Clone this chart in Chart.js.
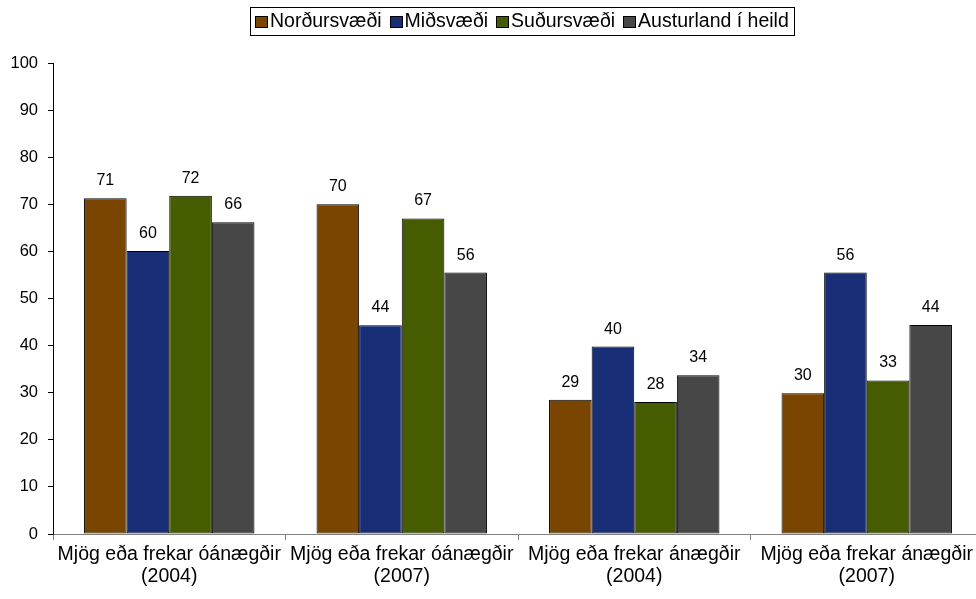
<!DOCTYPE html>
<html>
<head>
<meta charset="utf-8">
<script src="https://cdn.jsdelivr.net/npm/chart.js@4/dist/chart.umd.min.js"></script>
<style>
  html, body { margin: 0; padding: 0; background: #fff; overflow: hidden; }
  /* the original plot runs a few pixels past the right edge of the picture */
  #wrap { width: 983px; height: 599px; }
</style>
</head>
<body>
<div id="wrap"><canvas id="chart"></canvas></div>
<script>
// categories (two-line labels) and series
const categories = [
  ['Mjög eða frekar óánægðir', '(2004)'],
  ['Mjög eða frekar óánægðir', '(2007)'],
  ['Mjög eða frekar ánægðir', '(2004)'],
  ['Mjög eða frekar ánægðir', '(2007)']
];
const seriesNames = ['Norðursvæði', 'Miðsvæði', 'Suðursvæði', 'Austurland í heild'];
const nordursvaedi = [71.3, 70.0, 28.5, 29.9];
const midsvaedi = [60.1, 44.3, 39.8, 55.5];
const sudursvaedi = [71.8, 67.0, 28.0, 32.6];
const austurland = [66.2, 55.5, 33.7, 44.4];
const yMin = 0, yMax = 100, yStep = 10;

const FONT = '"Liberation Sans", Arial, sans-serif';

// numbers above the bars
const valueLabels = {
  id: 'valueLabels',
  afterDatasetsDraw(chart) {
    const ctx = chart.ctx;
    ctx.save();
    ctx.font = '16px ' + FONT;
    ctx.fillStyle = '#000';
    ctx.textAlign = 'center';
    ctx.textBaseline = 'alphabetic';
    chart.data.datasets.forEach((ds, i) => {
      chart.getDatasetMeta(i).data.forEach((bar, j) => {
        ctx.fillText(String(Math.round(ds.data[j])), bar.x, bar.y - 13);
      });
    });
    ctx.restore();
  }
};

// legend in a framed box, like the original
const boxLegend = {
  id: 'boxLegend',
  afterDraw(chart, args, opts) {
    const ctx = chart.ctx;
    ctx.save();
    ctx.font = '19.5px ' + FONT;
    const sqW = 12, sqH = 11, gap = 3, itemGap = 8, padX = 5;
    const items = chart.data.datasets.map(ds => ({
      text: ds.label,
      color: ds.backgroundColor,
      w: sqW + gap + ctx.measureText(ds.label).width
    }));
    const total = items.reduce((s, it) => s + it.w, 0) + itemGap * (items.length - 1) + padX * 2;
    let x = Math.round(opts.centerX - total / 2);
    const top = opts.top, h = opts.height;
    ctx.strokeStyle = '#000';
    ctx.lineWidth = 1;
    ctx.strokeRect(x + 0.5, top + 0.5, Math.round(total), h);
    x += padX;
    const cy = top + h / 2;
    items.forEach(it => {
      const bx = Math.round(x), by = Math.round(cy - sqH / 2);
      ctx.fillStyle = it.color;
      ctx.fillRect(bx, by, sqW, sqH);
      ctx.strokeRect(bx + 0.5, by + 0.5, sqW, sqH);
      ctx.fillStyle = '#000';
      ctx.textAlign = 'left';
      ctx.textBaseline = 'middle';
      ctx.fillText(it.text, x + sqW + gap, cy + 1);
      x += it.w + itemGap;
    });
    ctx.restore();
  }
};

const barStyle = { borderColor: '#000', borderWidth: 1, borderSkipped: false };

new Chart(document.getElementById('chart'), {
  type: 'bar',
  data: {
    labels: categories,
    datasets: [
      { label: seriesNames[0], data: nordursvaedi, backgroundColor: '#7a4500', ...barStyle },
      { label: seriesNames[1], data: midsvaedi, backgroundColor: '#182f78', ...barStyle },
      { label: seriesNames[2], data: sudursvaedi, backgroundColor: '#455c00', ...barStyle },
      { label: seriesNames[3], data: austurland, backgroundColor: '#474747', ...barStyle }
    ]
  },
  options: {
    responsive: true,
    maintainAspectRatio: false,
    animation: false,
    layout: { padding: { top: 63, right: 0, left: 0, bottom: 0 } },
    datasets: { bar: { categoryPercentage: 0.733, barPercentage: 1 } },
    plugins: {
      legend: { display: false },
      tooltip: { enabled: false },
      boxLegend: { centerX: 522, top: 7, height: 28 }
    },
    scales: {
      x: {
        grid: { drawOnChartArea: false, drawTicks: true, tickLength: 6, color: '#808080', offset: true },
        border: { color: '#808080' },
        ticks: { color: '#000', font: { family: FONT, size: 19.5, lineHeight: 1.1 }, maxRotation: 0, autoSkip: false, padding: 4 },
        afterFit(s) { s.height = 65; }
      },
      y: {
        min: yMin,
        max: yMax,
        grid: { drawOnChartArea: false, drawTicks: true, tickLength: 5, color: '#000' },
        border: { color: '#000' },
        ticks: { stepSize: yStep, color: '#000', font: { family: FONT, size: 16.5 }, padding: 10 },
        afterFit(s) { s.width = 53; }
      }
    }
  },
  plugins: [valueLabels, boxLegend]
});
</script>
</body>
</html>
